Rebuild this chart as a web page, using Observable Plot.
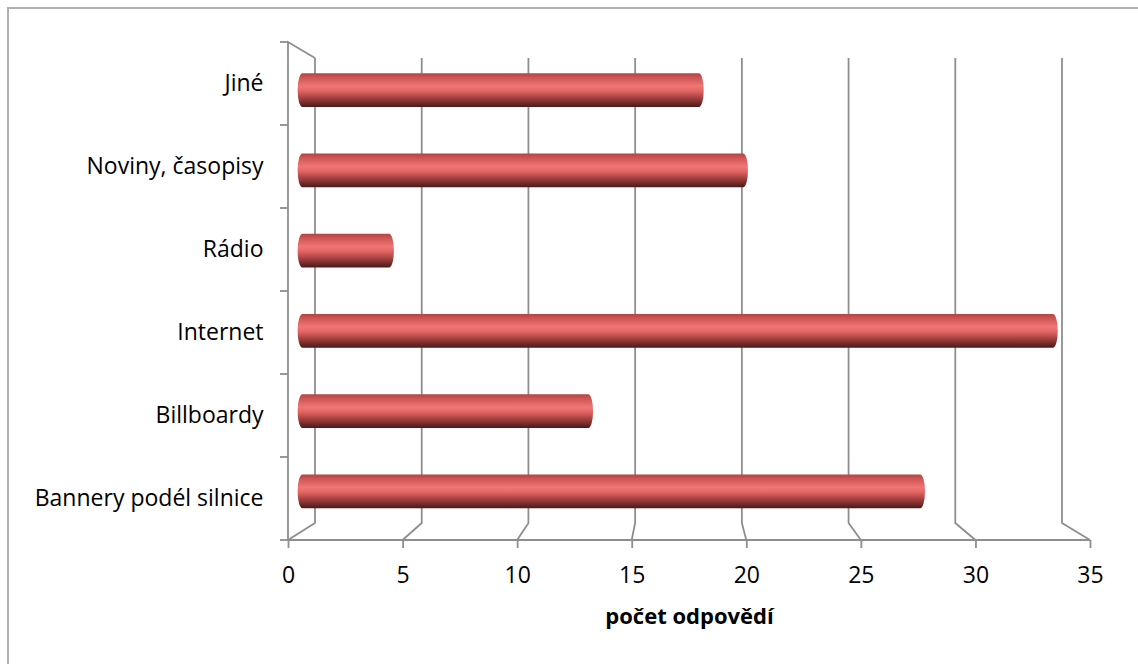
<!DOCTYPE html>
<html><head><meta charset="utf-8">
<script src="https://cdn.jsdelivr.net/npm/d3@7"></script>
<script src="https://cdn.jsdelivr.net/npm/@observablehq/plot@0.6"></script>
<style>
html,body{margin:0;padding:0;background:#fff;}
#wrap{position:relative;width:1138px;height:664px;overflow:hidden;}
#frame{position:absolute;left:7px;top:7px;width:1300px;height:900px;border-left:2px solid #b0b0b0;border-top:2px solid #b0b0b0;}
#chart{position:absolute;left:0;top:0;}
</style></head><body>
<div id="wrap"><div id="frame"></div><div id="chart"></div></div>
<script>
// ---- data ----
const categories = ["Jiné", "Noviny, časopisy", "Rádio", "Internet", "Billboardy", "Bannery podél silnice"];
const values = [18, 20, 4, 34, 13, 28];
const xTicks = [0, 5, 10, 15, 20, 25, 30, 35];
const xDomain = [0, 35];
const xLabel = "počet odpovědí";

const data = categories.map((c, i) => ({category: c, value: values[i]}));

// ---- layout / style ----
const W = 1138, H = 664;
const M = {top: 42, right: 48, bottom: 124, left: 288};
const depth = {L: 27, R: 28, T: 16, B: 17};
const gridColor = "#8e8e8e";
const font = "'Open Sans', sans-serif";

function plane(k, dim) {
  const fL = dim.marginLeft, fR = dim.width - dim.marginRight, fT = dim.marginTop, fB = dim.height - dim.marginBottom;
  const L = fL + k * depth.L, R = fR - k * depth.R, T = fT + k * depth.T, B = fB - k * depth.B;
  const a = (R - L) / (fR - fL), d = (B - T) / (fB - fT);
  return {a, d, e: L - a * fL, f: T - d * fT, px: x => L + (x - fL) * a, py: y => T + (y - fT) * d};
}

function frame3d(index, scales, values, dim) {
  const g = d3.create("svg:g").attr("stroke", gridColor).attr("stroke-width", 1.8).attr("fill", "none");
  const back = plane(1, dim);
  const fT = dim.marginTop, fB = dim.height - dim.marginBottom, fL = dim.marginLeft;
  for (const t of xTicks) {
    const x = scales.x(t);
    const bx = back.px(x);
    g.append("path").attr("d", `M${bx},${back.py(fT)}V${back.py(fB)}L${x},${fB}`);
  }
  g.append("path").attr("d", `M${back.px(fL)},${back.py(fT)}L${fL},${fT}V${fB}H${scales.x(xDomain[1])}`);
  const bw = scales.y.bandwidth ? scales.y.bandwidth() : (fB - fT) / categories.length;
  const bounds = [...categories.map(c => scales.y(c)), scales.y(categories[categories.length - 1]) + bw];
  for (const b of bounds) g.append("path").attr("d", `M${fL - 8},${b}H${fL}`);
  return g.node();
}

const plot = Plot.plot({
  width: W, height: H,
  marginTop: M.top, marginRight: M.right, marginBottom: M.bottom, marginLeft: M.left,
  style: {fontFamily: font, fontSize: "23px", color: "#000", background: "transparent", overflow: "visible"},
  x: {domain: xDomain, ticks: xTicks, label: null},
  y: {domain: categories, padding: 0, label: null},
  marks: [
    frame3d,
    Plot.barX(data, {x: "value", y: "category", insetTop: 24, insetBottom: 24, insetLeft: -4, insetRight: -4, rx: 5, ry: 17, fill: "url(#cyl)"}),
    Plot.axisX({ticks: xTicks, tickSize: 8, tickPadding: 18, fontSize: 23, label: null, stroke: gridColor, strokeWidth: 1.8, fill: "#000"}),
    Plot.axisY({tickSize: 0, tickPadding: 25, fontSize: 23, label: null, fill: "#000"}),
    Plot.text([xLabel], {text: d => d, frameAnchor: "bottom", dy: 83, fontWeight: "bold", fontSize: 22, fill: "#000"})
  ]
});

const svg = d3.select(plot);
const defs = svg.insert("defs", ":first-child");
const grad = defs.append("linearGradient").attr("id", "cyl").attr("x1", 0).attr("y1", 0).attr("x2", 0).attr("y2", 1);
[[0, "#b24442"], [0.12, "#cc5452"], [0.38, "#f07674"], [0.52, "#e26664"], [0.72, "#a84241"], [0.9, "#6a2827"], [1, "#481919"]]
  .forEach(([o, c]) => grad.append("stop").attr("offset", o).attr("stop-color", c));

// place bars on the mid-depth plane of the 3D box
const mid = plane(0.5, {marginLeft: M.left, marginRight: M.right, marginTop: M.top, marginBottom: M.bottom, width: W, height: H});
svg.selectAll('g[aria-label="bar"]').each(function() {
  const prev = this.getAttribute("transform") || "";
  this.setAttribute("transform", `matrix(${mid.a},0,0,${mid.d},${mid.e},${mid.f}) ${prev}`);
});

document.getElementById("chart").appendChild(plot);
</script>
</body></html>
